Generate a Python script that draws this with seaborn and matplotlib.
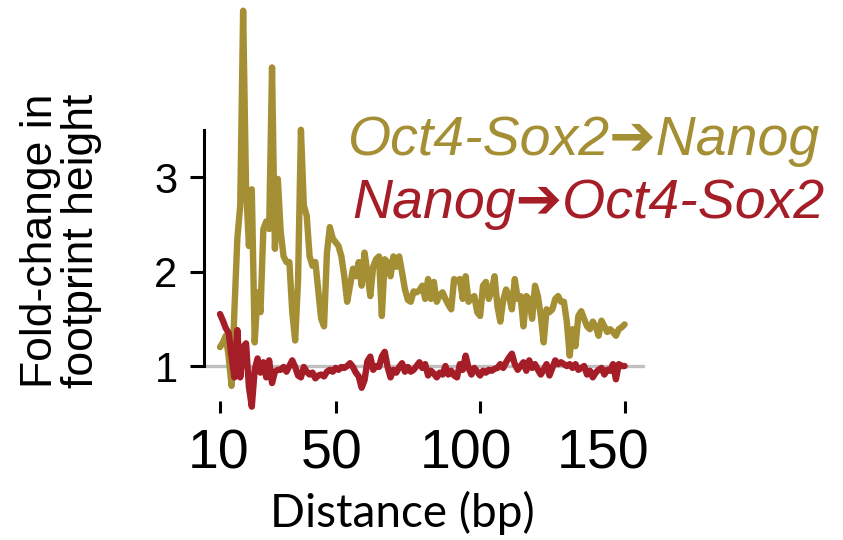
import matplotlib
matplotlib.use("Agg")
import matplotlib.pyplot as plt
import matplotlib.transforms as mtransforms
import pandas as pd
import seaborn as sns

# distance (bp), one value per bp from 10 to 150
distance = list(range(10, 151))

oct4_to_nanog = [
    1.20, 1.25, 1.32, 1.10, 0.79, 1.60, 2.35, 2.70, 4.76, 2.90,
    2.27, 2.87, 1.25, 1.78, 1.57, 2.45, 2.53, 2.45, 4.16, 2.24,
    2.98, 2.42, 2.16, 2.10, 2.10, 1.57, 1.27, 1.90, 3.50, 2.70,
    2.59, 2.16, 2.06, 2.10, 1.80, 1.50, 1.42, 2.20, 2.47, 2.35,
    2.31, 2.27, 2.16, 1.95, 1.68, 1.85, 2.03, 1.95, 2.10, 1.85,
    2.20, 1.99, 1.74, 2.05, 2.13, 2.16, 1.53, 2.13, 2.10, 1.95,
    2.16, 2.05, 2.16, 1.99, 1.81, 1.70, 1.68, 1.79, 1.78, 1.80,
    1.85, 1.71, 1.92, 1.71, 1.89, 1.68, 1.75, 1.78, 1.71, 1.65,
    1.60, 1.92, 1.90, 1.92, 1.71, 1.95, 1.68, 1.72, 1.74, 1.57,
    1.53, 1.85, 1.89, 1.71, 1.80, 1.95, 1.63, 1.47, 1.70, 1.81,
    1.74, 1.60, 1.92, 1.71, 1.74, 1.42, 1.74, 1.71, 1.50, 1.85,
    1.74, 1.53, 1.25, 1.60, 1.57, 1.60, 1.71, 1.74, 1.68, 1.68,
    1.47, 1.11, 1.39, 1.21, 1.53, 1.58, 1.50, 1.42, 1.39, 1.47,
    1.42, 1.32, 1.48, 1.42, 1.36, 1.39, 1.36, 1.32, 1.39, 1.41,
    1.44,
]

nanog_to_oct4 = [
    1.55, 1.48, 1.40, 1.35, 1.10, 0.88, 1.38, 0.88, 1.20, 1.24,
    0.78, 0.57, 0.96, 1.08, 0.93, 1.04, 0.88, 1.06, 0.82, 0.94,
    0.96, 0.96, 0.99, 0.94, 1.00, 1.06, 0.99, 0.90, 0.88, 0.99,
    0.94, 0.91, 0.93, 0.87, 0.90, 0.91, 0.89, 0.94, 0.96, 0.94,
    0.98, 0.96, 0.99, 0.98, 1.00, 1.03, 0.99, 0.93, 0.89, 0.77,
    0.85, 1.05, 1.10, 0.96, 1.00, 0.99, 1.10, 1.15, 0.99, 0.88,
    0.96, 0.93, 0.99, 1.03, 0.94, 0.99, 0.94, 0.96, 1.00, 1.04,
    0.98, 1.02, 0.90, 0.95, 0.92, 0.88, 0.93, 0.91, 1.00, 0.91,
    0.95, 0.90, 0.88, 1.02, 0.96, 1.11, 0.98, 0.91, 0.98, 0.94,
    0.90, 0.95, 0.93, 0.96, 0.95, 0.97, 0.98, 1.02, 0.98, 1.04,
    1.09, 1.13, 1.02, 0.96, 1.00, 1.04, 0.95, 1.06, 0.98, 1.02,
    0.96, 0.91, 0.96, 1.02, 0.90, 0.98, 1.06, 1.02, 1.04, 1.02,
    1.00, 1.02, 0.98, 1.02, 0.96, 0.98, 1.00, 0.91, 0.95, 0.88,
    0.93, 0.96, 0.98, 0.91, 0.96, 0.95, 1.02, 0.86, 1.02, 1.00,
    1.00,
]

series_names = ["Oct4-Sox2\u2794Nanog", "Nanog\u2794Oct4-Sox2"]
x_ticks = [10, 50, 100, 150]
y_ticks = [1, 2, 3]

GOLD = "#a58f35"
RED = "#a51d27"

sns.set_style("white")
plt.rcParams["font.family"] = ["Liberation Sans", "DejaVu Sans"]

df = pd.DataFrame({
    "distance": distance + distance,
    "fold": oct4_to_nanog + nanog_to_oct4,
    "pair": [series_names[0]] * len(distance) + [series_names[1]] * len(distance),
})

W, H = 843, 540
fig = plt.figure(figsize=(W / 100, H / 100), dpi=100)
ax = fig.add_axes([204 / W, 127 / H, 441 / W, 411 / H])

# baseline at fold-change 1
ax.axhline(1, color="#c0c0c0", lw=2.4, zorder=1)

sns.lineplot(data=df, x="distance", y="fold", hue="pair",
             palette=[GOLD, RED], lw=4.6, legend=False,
             errorbar=None, ax=ax, zorder=2)

ax.set_xlim(4.46, 157.06)
ax.set_ylim(0.503, 4.852)
ax.set_xticks(x_ticks)
ax.set_yticks(y_ticks)
ax.set_xlabel("")
ax.set_ylabel("")

for side in ["top", "right", "bottom"]:
    ax.spines[side].set_visible(False)
ax.spines["left"].set_linewidth(2.2)
ax.spines["left"].set_color("black")
ax.spines["left"].set_bounds(1, 3.5)

ax.tick_params(axis="x", bottom=True, direction="in", length=8.6, width=2.2,
               color="black", labelsize=40, labelcolor="black", pad=11)
ax.tick_params(axis="y", left=True, direction="out", length=10, width=2.2,
               color="black", labelsize=30, labelcolor="black", pad=9)

# the x labels sit a little left of their ticks in the original
shifts = [-1, -4, -14, -22]
for lab, dx in zip(ax.get_xticklabels(), shifts):
    off = mtransforms.ScaledTranslation(dx / 100, 0, fig.dpi_scale_trans)
    lab.set_transform(lab.get_transform() + off)

fig.text(402 / W, 1 - 513 / H, "Distance (bp)", family=["Lato", "DejaVu Sans"],
         fontsize=33, ha="center", va="center", color="black")
fig.text(61 / W, 1 - 241 / H, "Fold-change in\nfootprint height",
         rotation=90, ha="center", va="center", fontsize=32,
         linespacing=1.02, color="black")

fig.text(348 / W, 1 - 155 / H, series_names[0], style="italic",
         fontsize=40, color=GOLD, va="baseline", ha="left")
fig.text(352 / W, 1 - 218 / H, series_names[1], style="italic",
         fontsize=40, color=RED, va="baseline", ha="left")

fig.savefig("out.png", dpi=100)
